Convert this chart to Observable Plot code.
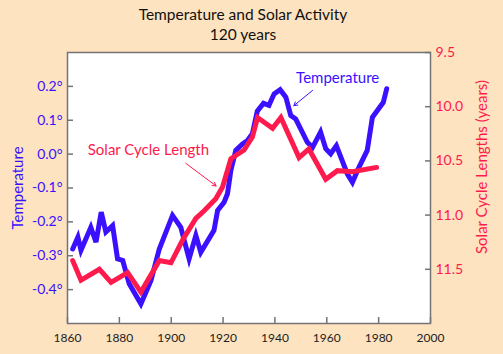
<!DOCTYPE html>
<html>
<head>
<meta charset="utf-8">
<script src="https://cdn.jsdelivr.net/npm/d3@7"></script>
<script src="https://cdn.jsdelivr.net/npm/@observablehq/plot@0.6"></script>
<style>
  html, body { margin: 0; padding: 0; background: #fde3c0; }
  #wrap { position: relative; width: 503px; height: 354px; background: #fde3c0; font-family: Lato, "Open Sans", sans-serif; }
  #title { position: absolute; left: 0; top: 4px; width: 486px; text-align: center; font-size: 15.5px; line-height: 20px; color: #111; }
  #chart { position: absolute; left: 0; top: 44px; }
  #chart svg { display: block; }
</style>
</head>
<body>
<div id="wrap">
  <div id="title">Temperature and Solar Activity<br>120 years</div>
  <div id="chart"></div>
</div>
<script>
// ---- data ----
const tempYears = [1862,1864,1865.2,1869,1871,1873,1874.8,1877.4,1879.3,1881.3,1883.8,1888.3,1892.2,1895.4,1900.5,1903.7,1906.9,1909.5,1911.4,1916.5,1917.9,1920.4,1921.7,1923,1924.9,1927.5,1929.4,1931.3,1933.2,1935.6,1937.7,1939.7,1942,1944.2,1946.1,1948,1952.5,1954.5,1957.6,1959.6,1961.5,1963.7,1967.9,1969.9,1972.4,1975.6,1977.6,1979.5,1981.8,1983.1];
const tempValues = [-0.28,-0.245,-0.284,-0.216,-0.26,-0.171,-0.23,-0.211,-0.309,-0.314,-0.383,-0.442,-0.373,-0.28,-0.181,-0.216,-0.309,-0.24,-0.29,-0.225,-0.166,-0.142,-0.117,-0.048,0.011,0.03,0.04,0.06,0.127,0.15,0.144,0.178,0.19,0.168,0.114,0.104,0.035,0.02,0.065,0.016,0.001,0.025,-0.058,-0.083,-0.039,0.011,0.109,0.129,0.153,0.193];
const solarYears = [1862,1865.2,1872.3,1876.8,1883.2,1888.3,1895.4,1899.9,1904.4,1909.5,1912.7,1917.2,1919.8,1923,1928.1,1931.3,1933.3,1939.1,1942.3,1949.3,1953.1,1959.6,1964.1,1969.9,1979.2];
const solarValues = [11.42,11.60,11.50,11.62,11.53,11.71,11.42,11.44,11.23,11.03,10.96,10.85,10.74,10.48,10.40,10.28,10.10,10.20,10.10,10.47,10.39,10.67,10.59,10.60,10.56];
const xTicks = [1860,1880,1900,1920,1940,1960,1980,2000];
const tempTicks = [-0.4,-0.3,-0.2,-0.1,0.0,0.1,0.2];
const solarTicks = [9.5,10.0,10.5,11.0,11.5];
const tempDomain = [-0.5, 0.3];
const solarDomain = [9.5, 12.0]; // 9.5 at top, 12.0 at bottom
const labelTemp = ["Temperature"];
const labelSolar = ["Solar Cycle Length"];
const labelTempPos = [{year: 1964.2, v: 0.225}];
const labelSolarPos = [{year: 1891.2, v: 0.011}];
const arrowTemp = [{x1: 1954.5, y1: 0.188, x2: 1947.3, y2: 0.143}];
const arrowSolar = [{x1: 1905.6, y1: -0.027, x2: 1917.3, y2: -0.094}];

// ---- styles ----
const BLUE = "#3a10ff";
const RED = "#ff1a4d";
const GRAY = "#747474";

// map solar cycle length onto the temperature axis
const toT = s => tempDomain[1] - (s - solarDomain[0]) * (tempDomain[1] - tempDomain[0]) / (solarDomain[1] - solarDomain[0]);
const fromT = t => solarDomain[0] + (tempDomain[1] - t) * (solarDomain[1] - solarDomain[0]) / (tempDomain[1] - tempDomain[0]);

const temp = tempYears.map((yr, i) => ({year: yr, v: tempValues[i]}));
const solar = solarYears.map((yr, i) => ({year: yr, v: toT(solarValues[i])}));
const solarTickT = solarTicks.map(toT);

const chart = Plot.plot({
  width: 503,
  height: 310,
  marginTop: 8,
  marginBottom: 31,
  marginLeft: 67,
  marginRight: 73,
  style: {background: "transparent", fontFamily: "Lato, 'Open Sans', sans-serif", overflow: "visible"},
  x: {domain: [1860, 2000]},
  y: {domain: tempDomain},
  marks: [
    Plot.frame({fill: "white", stroke: "none"}),
    Plot.line(temp, {x: "year", y: "v", stroke: BLUE, strokeWidth: 5, strokeLinejoin: "miter", strokeMiterlimit: 4, curve: "linear"}),
    Plot.line(solar, {x: "year", y: "v", stroke: RED, strokeWidth: 5, strokeLinejoin: "miter", strokeMiterlimit: 4, curve: "linear"}),
    Plot.text(labelTemp, {x: labelTempPos.map(d => d.year), y: labelTempPos.map(d => d.v), text: d => d, fill: BLUE, fontSize: 15}),
    Plot.text(labelSolar, {x: labelSolarPos.map(d => d.year), y: labelSolarPos.map(d => d.v), text: d => d, fill: RED, fontSize: 15}),
    Plot.arrow(arrowTemp, {x1: "x1", y1: "y1", x2: "x2", y2: "y2", stroke: BLUE, strokeWidth: 1, headLength: 6}),
    Plot.arrow(arrowSolar, {x1: "x1", y1: "y1", x2: "x2", y2: "y2", stroke: RED, strokeWidth: 1, headLength: 6}),
    // ticks (inward)
    Plot.axisX({ticks: xTicks, tickSize: -6, stroke: GRAY, strokeWidth: 1.5, fill: "none", label: null}),
    Plot.axisY({ticks: tempTicks, anchor: "left", tickSize: -6, stroke: GRAY, strokeWidth: 1.5, fill: "none", label: null}),
    Plot.axisY({ticks: solarTickT, anchor: "right", tickSize: -6, stroke: GRAY, strokeWidth: 1.5, fill: "none", label: null}),
    // tick labels
    Plot.axisX({ticks: xTicks, tickSize: 0, tickPadding: 10, tickFormat: d => String(d), fill: "#222", fontSize: 12, label: null}),
    Plot.axisY({ticks: tempTicks, anchor: "left", tickSize: 0, tickPadding: 5, tickFormat: d => d.toFixed(1) + "°", fill: BLUE, fontSize: 14, label: null}),
    Plot.axisY({ticks: solarTickT, anchor: "right", tickSize: 0, tickPadding: 5, tickFormat: d => fromT(d).toFixed(1), fill: RED, fontSize: 14, label: null}),
    // axis titles
    Plot.text(["Temperature"], {frameAnchor: "left", textAnchor: "middle", dx: -49, rotate: -90, text: d => d, fill: BLUE, fontSize: 15}),
    Plot.text(["Solar Cycle Lengths (years)"], {frameAnchor: "right", textAnchor: "middle", dx: 52, dy: -21, rotate: -90, text: d => d, fill: RED, fontSize: 15}),
    Plot.frame({stroke: GRAY, strokeWidth: 1.5})
  ]
});
document.getElementById("chart").appendChild(chart);
</script>
</body>
</html>
